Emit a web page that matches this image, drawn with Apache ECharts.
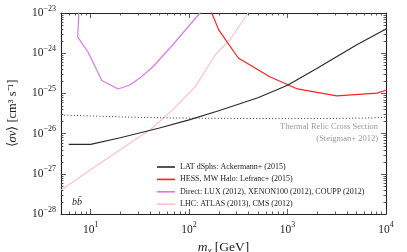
<!DOCTYPE html>
<html><head><meta charset="utf-8">
<script src="https://cdn.jsdelivr.net/npm/echarts@6/dist/echarts.min.js"></script>
<style>html,body{margin:0;padding:0;background:#fff}#c{width:407px;height:252px}</style>
</head><body><div id="c"></div>
<script>
// masses in GeV, cross sections in cm^3 s^-1
const latMass = [6, 10, 20, 50, 100, 200, 500, 1000, 2000, 5000, 10000];
const latSigma = [5.4e-27, 5.4e-27, 7.9e-27, 1.38e-26, 2.2e-26, 3.7e-26, 7.8e-26, 1.6e-25, 4.2e-25, 1.6e-24, 4.0e-24];
const hessMass = [150, 170, 200, 316, 660, 1260, 3160, 8100, 10000];
const hessSigma = [3e-23, 1.0e-23, 3.8e-24, 7.6e-25, 2.6e-25, 1.29e-25, 8.7e-26, 1.02e-25, 1.2e-25];
const directMass = [7.6, 7.4, 9.4, 13, 19, 25, 31.6, 43, 68, 129, 140];
const directSigma = [1.2e-23, 2.5e-24, 1.07e-24, 2.1e-25, 1.29e-25, 1.62e-25, 2.4e-25, 4.6e-25, 1.6e-24, 1.0e-23, 1.5e-23];
const lhcMass = [5, 9.8, 30, 40, 68, 115, 190, 258, 398, 450];
const lhcSigma = [3.9e-28, 1.23e-27, 7.8e-27, 1.23e-26, 3.9e-26, 1.45e-25, 1.0e-24, 2.1e-24, 1.0e-23, 1.5e-23];
const relicMass = [5, 10, 20, 50, 100, 300, 1000, 3000, 7000, 10000];
const relicSigma = [2.9e-26, 2.75e-26, 2.6e-26, 2.48e-26, 2.42e-26, 2.38e-26, 2.36e-26, 2.38e-26, 2.45e-26, 2.55e-26];
const seriesNames = ['LAT dSphs: Ackermann+ (2015)', 'HESS, MW Halo: Lefranc+ (2015)', 'Direct: LUX (2012), XENON100 (2012), COUPP (2012)', 'LHC: ATLAS (2013), CMS (2012)'];
const xTicks = [10, 100, 1000, 10000];
const yTicks = [1e-28, 1e-27, 1e-26, 1e-25, 1e-24, 1e-23];

const xMin = 5, xMax = 10000, yMin = 1e-28, yMax = 1e-23;
const L = Math.log10;
const serif = 'Liberation Serif';
function expLabel(lv){
  const s = String(Math.round(lv)).replace('-', '\u2212');
  return '{b|10}{s|' + s + '}';
}
const rich = {b:{fontFamily:serif,fontSize:11.5,color:'#222'}, s:{fontFamily:serif,fontSize:8,color:'#222',verticalAlign:'bottom',padding:[0,0,9,0]}};

// minor tick values (log10 positions)
const xMinor = [];
for (let k = 0; k <= 3; k++) for (let m = 2; m <= 9; m++) { const v = m * Math.pow(10, k); if (v > xMin && v < xMax) xMinor.push(L(v)); }
const yMinor = [];
for (let k = -28; k <= -24; k++) for (let m = 2; m <= 9; m++) yMinor.push(k + L(m));

function pairs(xs, ys){ return xs.map((x,i)=>[L(x), L(ys[i])]); }
const colors = ['#2a2a2a', '#ff2020', '#dd77ee', '#ffc0cc'];

const X0 = L(xMin), X1 = L(xMax), Y0 = L(yMin), Y1 = L(yMax);
const chart = echarts.init(document.getElementById('c'), null, {renderer:'canvas'});
const tickSeries = {
  type:'custom', silent:true, z:5, clip:false,
  data:[[X0, Y0]],
  renderItem:function(params, api){
    const ch = [];
    const st = {stroke:'#333', lineWidth:0.8};
    const top = api.coord([X0, Y1])[1], bot = api.coord([X0, Y0])[1];
    const lft = api.coord([X0, Y0])[0], rgt = api.coord([X1, Y0])[0];
    xMinor.forEach(v=>{ const x = Math.round(api.coord([v, Y0])[0]) + 0.5;
      ch.push({type:'line', shape:{x1:x,y1:bot,x2:x,y2:bot-2.5}, style:st});
      ch.push({type:'line', shape:{x1:x,y1:top,x2:x,y2:top+2.5}, style:st}); });
    yMinor.forEach(v=>{ const y = Math.round(api.coord([X0, v])[1]) + 0.5;
      ch.push({type:'line', shape:{x1:lft,y1:y,x2:lft+2.5,y2:y}, style:st});
      ch.push({type:'line', shape:{x1:rgt,y1:y,x2:rgt-2.5,y2:y}, style:st}); });
    return {type:'group', children:ch};
  }
};

const xMajor = xTicks.map(L);
const yMajor = yTicks.map(L);
function axisBase(major){
  return {
    type:'value', splitLine:{show:false},
    axisLine:{show:true, lineStyle:{color:'#222', width:1.1}},
    axisTick:{show:true, inside:true, length:5, customValues:major, lineStyle:{color:'#333', width:0.8}},
    minorTick:{show:false}
  };
}

chart.setOption({
  animation:false,
  backgroundColor:'#fff',
  grid:{left:61, top:13, right:21, bottom:38, containLabel:false, outerBoundsMode:'none'},
  xAxis:[
    Object.assign(axisBase(xMajor), {min:X0, max:X1, position:'bottom',
      axisLabel:{show:true, margin:7, customValues:xMajor, formatter:function(v){ return expLabel(v); }, rich:rich},
      name:'{i|m}{c|\u03c7} {n|[GeV]}', nameLocation:'middle', nameGap:23,
      nameTextStyle:{rich:{i:{fontFamily:serif,fontStyle:'italic',fontSize:13.5,color:'#222'}, c:{fontFamily:serif,fontStyle:'italic',fontSize:9,color:'#222',verticalAlign:'top',padding:[6,0,0,0]}, n:{fontFamily:serif,fontSize:13.5,color:'#222'}}}
    }),
    Object.assign(axisBase(xMajor), {min:X0, max:X1, position:'top', axisLabel:{show:false}})
  ],
  yAxis:[
    Object.assign(axisBase(yMajor), {min:Y0, max:Y1, interval:1, position:'left',
      axisLabel:{show:true, margin:5, customValues:yMajor, formatter:function(v){ return expLabel(v); }, rich:rich},
      name:'{m|\u27e8}{i|\u03c3v}{m|\u27e9 [cm\u00b3 s\u207b\u00b9]}', nameLocation:'middle', nameGap:42, nameRotate:90,
      nameTextStyle:{rich:{m:{fontFamily:serif, fontSize:12.5, color:'#222'}, i:{fontFamily:serif, fontStyle:'italic', fontSize:12.5, color:'#222'}}}
    }),
    Object.assign(axisBase(yMajor), {min:Y0, max:Y1, interval:1, position:'right', axisLabel:{show:false}})
  ],
  legend:{
    show:true, orient:'vertical', left:152, top:158, itemGap:4.4, itemWidth:18, itemHeight:8,
    icon:'path://M0,3.2L18,3.2L18,4.8L0,4.8Z',
    data:seriesNames,
    textStyle:{fontFamily:serif, fontSize:8, color:'#222'}
  },
  series:[
    {name:seriesNames[0], type:'line', data:pairs(latMass, latSigma), symbol:'none', clip:true, lineStyle:{color:colors[0], width:1.2}, itemStyle:{color:colors[0]}, z:4},
    {name:seriesNames[1], type:'line', data:pairs(hessMass, hessSigma), symbol:'none', clip:true, lineStyle:{color:colors[1], width:1.2}, itemStyle:{color:colors[1]}, z:3},
    {name:seriesNames[2], type:'line', data:pairs(directMass, directSigma), symbol:'none', clip:true, lineStyle:{color:colors[2], width:1.2}, itemStyle:{color:colors[2]}, z:3},
    {name:seriesNames[3], type:'line', data:pairs(lhcMass, lhcSigma), symbol:'none', clip:true, lineStyle:{color:colors[3], width:1.2}, itemStyle:{color:colors[3]}, z:2},
    {name:'Thermal Relic', type:'line', data:pairs(relicMass, relicSigma), symbol:'none', clip:true, lineStyle:{color:'#333', width:1, type:[1,2.2]}, z:2},
    tickSeries
  ],
  graphic:[
    {type:'text', right:29, top:122, style:{text:'Thermal Relic Cross Section', fontFamily:serif, fontSize:8.5, fill:'#999', textAlign:'right'}},
    {type:'text', right:29, top:134, style:{text:'(Steigman+ 2012)', fontFamily:serif, fontSize:8.5, fill:'#999', textAlign:'right'}},
    {type:'text', left:72, top:197, style:{text:'bb\u0304', fontFamily:serif, fontStyle:'italic', fontSize:10, fill:'#222'}}
  ]
});
</script></body></html>
